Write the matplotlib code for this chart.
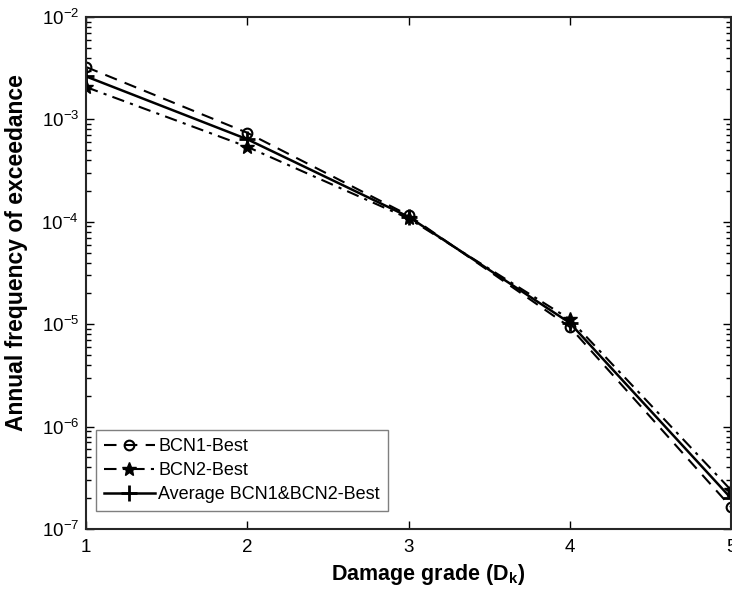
import numpy as np
import matplotlib
matplotlib.use("Agg")
import matplotlib.pyplot as plt

# damage grades and annual frequencies of exceedance
grades = [1, 2, 3, 4, 5]
bcn1_best = [3.25e-3, 7.4e-4, 1.16e-4, 9.4e-6, 1.64e-7]
bcn2_best = [2.07e-3, 5.4e-4, 1.08e-4, 1.12e-5, 2.4e-7]
average_best = [2.63e-3, 6.4e-4, 1.12e-4, 1.03e-5, 2.0e-7]

plt.rcParams["font.family"] = ["Liberation Sans", "DejaVu Sans"]
plt.rcParams["mathtext.fontset"] = "custom"
plt.rcParams["mathtext.rm"] = "Liberation Sans"
plt.rcParams["mathtext.it"] = "Liberation Sans:italic"
plt.rcParams["mathtext.bf"] = "Liberation Sans:bold"

fig = plt.figure(figsize=(7.32, 5.95), dpi=100)
ax = fig.add_axes([86 / 732, 66 / 595, 645 / 732, 512 / 595])

# plot curves
ax.plot(grades, bcn1_best, linestyle="--", dashes=(6, 4), color="k", linewidth=1.5,
        marker="o", markersize=7, markerfacecolor="none", markeredgewidth=1.5, label="BCN1-Best")
ax.plot(grades, bcn2_best, linestyle="-.", dashes=(6, 3, 1.5, 3), color="k", linewidth=1.5,
        marker="*", markersize=10, label="BCN2-Best")
ax.plot(grades, average_best, linestyle="-", color="k", linewidth=1.8,
        marker="+", markersize=11, markeredgewidth=2, label="Average BCN1&BCN2-Best")

ax.set_yscale("log")
ax.set_xlim(1, 5)
ax.set_ylim(1e-7, 1e-2)
ax.set_xticks(grades)

ax.tick_params(which="both", direction="in", top=True, right=True, labelsize=13.5)
ax.tick_params(which="major", length=6, width=1)
ax.tick_params(which="minor", length=3.5, width=1)
ax.tick_params(axis="x", pad=7)
ax.tick_params(axis="y", pad=5)
for spine in ax.spines.values():
    spine.set_linewidth(1.5)
    spine.set_color("#262626")

ax.set_xlabel("Damage grade (D$_\\mathbf{k}$)", fontsize=15.5, fontweight="bold")
ax.set_ylabel("Annual frequency of exceedance", fontsize=16.5, fontweight="bold")
ax.xaxis.set_label_coords(0.53, -0.065)
ax.yaxis.set_label_coords(-0.09, 0.54)

leg = ax.legend(loc="lower left", bbox_to_anchor=(0.0155, 0.035), fontsize=13, fancybox=False,
                framealpha=1, edgecolor="#7f7f7f", handlelength=2.8, handletextpad=0.2,
                borderpad=0.45, labelspacing=0.38, borderaxespad=0)
leg.get_frame().set_linewidth(1)

fig.savefig("out.png", dpi=100)
